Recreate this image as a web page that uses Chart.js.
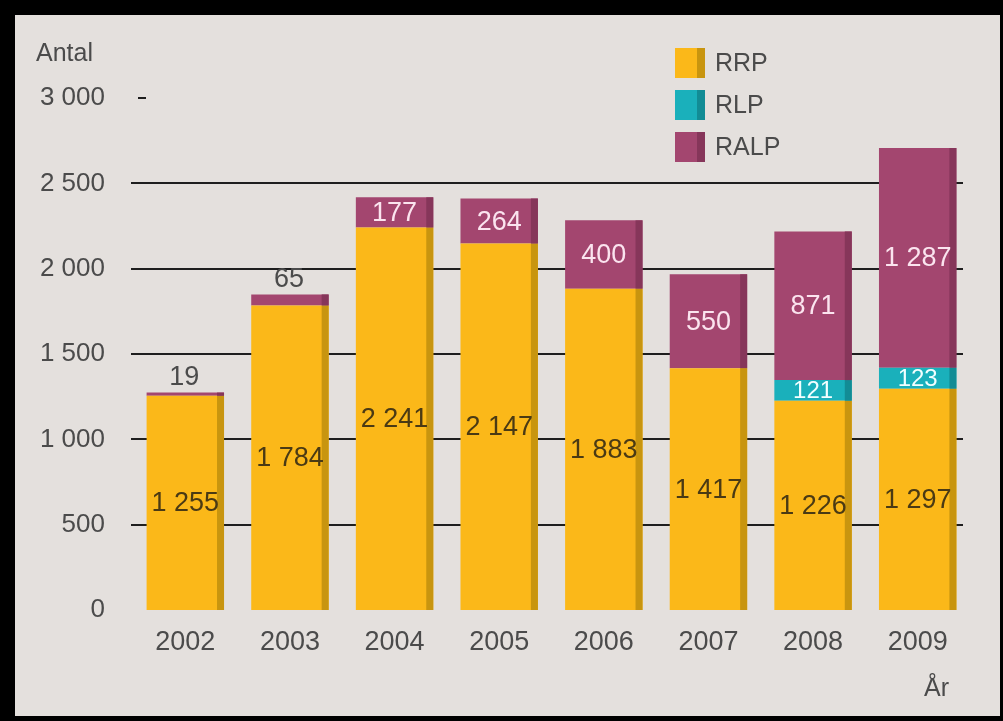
<!DOCTYPE html>
<html>
<head>
<meta charset="utf-8">
<script src="https://cdn.jsdelivr.net/npm/chart.js@4"></script>
<style>
  html, body { margin: 0; padding: 0; background: #000; }
  canvas { display: block; }
</style>
</head>
<body>
<canvas id="chart" width="1003" height="721"></canvas>
<script>
const years = ['2002', '2003', '2004', '2005', '2006', '2007', '2008', '2009'];
const rrp = [1255, 1784, 2241, 2147, 1883, 1417, 1226, 1297];
const rlp = [0, 0, 0, 0, 0, 0, 121, 123];
const ralp = [19, 65, 177, 264, 400, 550, 871, 1287];
const yTickValues = [0, 500, 1000, 1500, 2000, 2500, 3000];

const FONT = '"Liberation Sans", Arial, sans-serif';
const TEXT = '#4b4b4b';

// fill, right-edge shade, label colour per series
const palette = {
    RRP:  { fill: '#fbb819', shade: '#c8950f', label: '#4a3a14' },
    RLP:  { fill: '#1ab0bb', shade: '#128c95', label: '#f2ffff' },
    RALP: { fill: '#a3466f', shade: '#86365a', label: '#fbe4ef' }
};

function fmt(n) {
    return String(n).replace(/\B(?=(\d{3})+(?!\d))/g, ' ');
}

const panel = {
    id: 'panel',
    beforeDraw(chart) {
        const ctx = chart.ctx;
        ctx.save();
        ctx.fillStyle = '#000';
        ctx.fillRect(0, 0, chart.width, chart.height);
        ctx.fillStyle = '#e4e0dd';
        ctx.fillRect(15, 15, chart.width - 18, chart.height - 20);
        ctx.restore();
    }
};

// horizontal rules behind the bars
const rules = {
    id: 'rules',
    beforeDatasetsDraw(chart) {
        const { ctx, chartArea, scales } = chart;
        ctx.save();
        ctx.strokeStyle = '#1e1e1e';
        ctx.lineWidth = 2;
        yTickValues.forEach(v => {
            if (v === 0) return;
            const y = Math.round(scales.y.getPixelForValue(v));
            const top = v === yTickValues[yTickValues.length - 1];
            const x0 = top ? chartArea.left + 5 : chartArea.left - 2;
            const x1 = top ? chartArea.left + 13 : chartArea.right - 7;
            ctx.beginPath();
            ctx.moveTo(x0, y);
            ctx.lineTo(x1, y);
            ctx.stroke();
        });
        ctx.restore();
    }
};

// darker right edge on each bar, then the value labels
const barDecor = {
    id: 'barDecor',
    afterDatasetsDraw(chart) {
        const ctx = chart.ctx;
        const last = chart.data.datasets.length - 1;
        ctx.save();
        chart.data.datasets.forEach((ds, i) => {
            const meta = chart.getDatasetMeta(i);
            const col = palette[ds.label];
            meta.data.forEach((bar, j) => {
                if (!ds.data[j]) return;
                const p = bar.getProps(['x', 'y', 'base', 'width'], true);
                ctx.fillStyle = col.shade;
                ctx.fillRect(p.x + p.width / 2 - 7, p.y, 7, p.base - p.y);
            });
        });
        ctx.textAlign = 'center';
        ctx.textBaseline = 'middle';
        chart.data.datasets.forEach((ds, i) => {
            const meta = chart.getDatasetMeta(i);
            const col = palette[ds.label];
            meta.data.forEach((bar, j) => {
                const v = ds.data[j];
                if (!v) return;
                const p = bar.getProps(['x', 'y', 'base'], true);
                const h = p.base - p.y;
                if (i === last && h < 30) {
                    // thin top segment: value sits above the bar
                    ctx.font = '27px ' + FONT;
                    ctx.fillStyle = TEXT;
                    ctx.fillText(fmt(v), p.x - 1, p.y - 15);
                } else {
                    ctx.font = (h < 30 ? '24px ' : '27px ') + FONT;
                    ctx.fillStyle = col.label;
                    ctx.fillText(fmt(v), p.x, p.y + h / 2 + 1);
                }
            });
        });
        ctx.restore();
    }
};

// legend block, axis captions
const extras = {
    id: 'extras',
    afterDraw(chart) {
        const ctx = chart.ctx;
        ctx.save();
        ctx.textBaseline = 'middle';
        ctx.font = '25px ' + FONT;
        chart.data.datasets.forEach((ds, i) => {
            const col = palette[ds.label];
            const top = 48 + i * 42;
            ctx.fillStyle = col.fill;
            ctx.fillRect(675, top, 30, 30);
            ctx.fillStyle = col.shade;
            ctx.fillRect(697, top, 8, 30);
            ctx.fillStyle = TEXT;
            ctx.textAlign = 'left';
            ctx.fillText(ds.label, 715, top + 16);
        });
        ctx.fillStyle = TEXT;
        ctx.textAlign = 'left';
        ctx.fillText('Antal', 36, 54);
        ctx.textAlign = 'right';
        ctx.fillText('År', 949, 689);
        ctx.restore();
    }
};

const datasets = [
    { label: 'RRP', data: rrp },
    { label: 'RLP', data: rlp },
    { label: 'RALP', data: ralp }
].map(d => Object.assign(d, {
    backgroundColor: palette[d.label].fill,
    borderWidth: 0,
    barPercentage: 0.74,
    categoryPercentage: 1
}));

new Chart(document.getElementById('chart'), {
    type: 'bar',
    data: { labels: years, datasets: datasets },
    plugins: [panel, rules, barDecor, extras],
    options: {
        responsive: false,
        animation: false,
        layout: { padding: { top: 98, right: 33, bottom: 0, left: 0 } },
        plugins: {
            legend: { display: false },
            tooltip: { enabled: false }
        },
        scales: {
            x: {
                stacked: true,
                grid: { display: false, drawTicks: false },
                border: { display: false },
                ticks: { color: TEXT, font: { family: FONT, size: 27 }, padding: 16 },
                afterFit(scale) { scale.height = 111; }
            },
            y: {
                stacked: true,
                min: 0,
                max: 3000,
                afterBuildTicks(scale) { scale.ticks = yTickValues.map(v => ({ value: v })); },
                grid: { display: false, drawTicks: false },
                border: { display: false },
                ticks: {
                    color: TEXT,
                    font: { family: FONT, size: 26 },
                    padding: 28,
                    callback: v => fmt(v)
                },
                afterFit(scale) { scale.width = 133; }
            }
        }
    }
});
</script>
</body>
</html>
